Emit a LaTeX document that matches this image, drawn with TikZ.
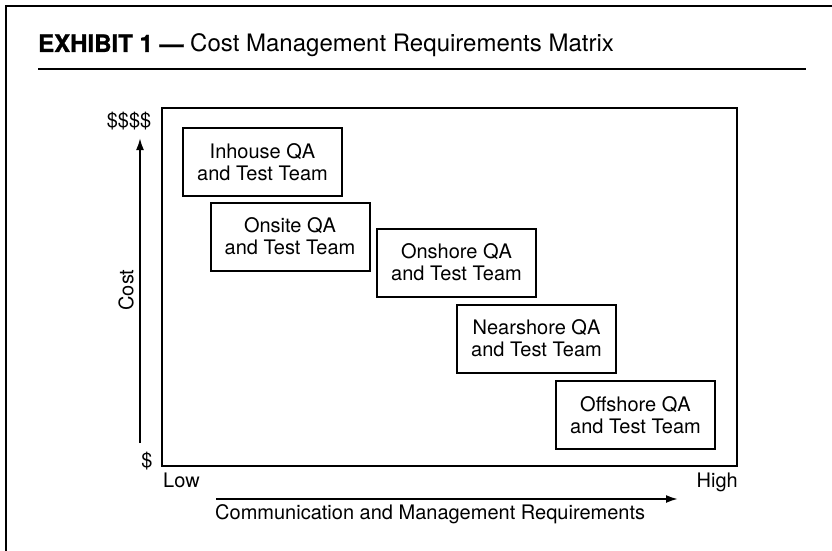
\documentclass[tikz,border=0pt]{standalone}
\usepackage{fontspec}
\setmainfont{TeX Gyre Heros}
\newfontfamily\heavyfont[FakeBold=1.2]{TeX Gyre Heros Bold}
\usetikzlibrary{arrows.meta}

\newcommand{\labelfont}{\fontsize{20}{22.3}\selectfont}
\newcommand{\titlefont}{\fontsize{24}{28}\selectfont}
\tikzset{
  teambox/.style={draw, line width=2pt, minimum width=159pt, minimum height=68pt,
    inner sep=0pt, align=center, font=\labelfont},
  axislabel/.style={inner sep=0pt, font=\labelfont},
  axisarrow/.style={line width=2pt, -{Latex[length=12pt,width=8pt]}}
}

\begin{document}
\begin{tikzpicture}[x=1pt,y=-1pt]
    \useasboundingbox (0,0) rectangle (832,551);

    % Rahmen oben und links
    \draw[line width=2.2pt] (6,551) -- (6,6) -- (832,6);

    % Titel
    \node[inner sep=0pt, font=\titlefont, anchor=base west] (title) at (38,52)
        {{\heavyfont EXHIBIT 1 —} Cost Management Requirements Matrix};
    \draw[line width=2.4pt] (38,69) -- (806,69);

    % Matrix
    \draw[line width=2.2pt] (162,108) rectangle (737,466);

    % Teams
    \node[teambox] (inhouse)   at (262.5,162)   {Inhouse QA\\and Test Team};
    \node[teambox] (onsite)    at (290,236.5)   {Onsite QA\\and Test Team};
    \node[teambox] (onshore)   at (456.5,262.5) {Onshore QA\\and Test Team};
    \node[teambox] (nearshore) at (536.5,338.5) {Nearshore QA\\and Test Team};
    \node[teambox] (offshore)  at (635.5,415)   {Offshore QA\\and Test Team};

    % Kosten
    \coordinate (costlow)  at (140,443);
    \coordinate (costhigh) at (140,138);
    \draw[axisarrow] (costlow) -- (costhigh);
    \node[axislabel] (costmax) at (129,121) {\$\$\$\$};
    \node[axislabel] (costmin) at (147,461) {\$};
    \node[axislabel, rotate=90] (cost) at (126,290) {Cost};

    % Anforderungen
    \node[axislabel, anchor=base west] (low)  at (163,487) {Low};
    \node[axislabel, anchor=base east] (high) at (738,487) {High};
    \coordinate (reqlow)  at (216,499);
    \coordinate (reqhigh) at (678,499);
    \draw[axisarrow] (reqlow) -- (reqhigh);
    \node[axislabel, anchor=base west] (req) at (215,519)
        {Communication and Management Requirements};
\end{tikzpicture}
\end{document}
